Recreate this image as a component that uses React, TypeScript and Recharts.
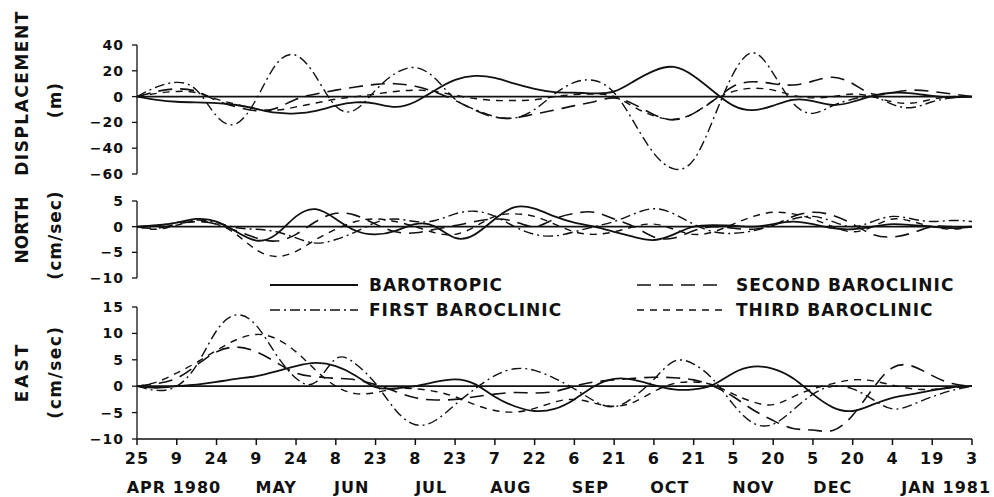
import React from 'react';
import { LineChart, Line, XAxis, YAxis, ReferenceLine } from 'recharts';

// x positions in tick units (one tick = half a month), sampled every half tick
const xs = [0, 0.5, 1, 1.5, 2, 2.5, 3, 3.5, 4, 4.5, 5, 5.5, 6, 6.5, 7, 7.5, 8, 8.5, 9, 9.5, 10, 10.5,
  11, 11.5, 12, 12.5, 13, 13.5, 14, 14.5, 15, 15.5, 16, 16.5, 17, 17.5, 18, 18.5, 19, 19.5, 20, 20.5, 21];

const dayTicks = [0, 1, 2, 3, 4, 5, 6, 7, 8, 9, 10, 11, 12, 13, 14, 15, 16, 17, 18, 19, 20, 21];
const dayLabels = ['25', '9', '24', '9', '24', '8', '23', '8', '23', '7', '22', '6', '21', '6', '21', '5', '20', '5', '20', '4', '19', '3'];
const monthTicks = [0.93, 3.5, 5.4, 7.4, 9.4, 11.4, 13.4, 15.5, 17.5, 20.35];
const monthLabels = ['APR 1980', 'MAY', 'JUN', 'JUL', 'AUG', 'SEP', 'OCT', 'NOV', 'DEC', 'JAN 1981'];

// DISPLACEMENT (m)
const dispBaro = [0, -2.5, -4, -4.5, -5, -6.5, -9.5, -12.5, -13, -11, -7, -4.5, -5.5, -8, -4, 5, 13, 16, 14.5, 10, 6, 3.5,
  3, 2.5, 4, 12, 20, 23, 16, 4, -7, -10.5, -7, -2.5, -3.5, -6.5, -4, 0.5, 3, 2.5, 0.5, -0.5, 0];
const dispFirst = [0, 7.5, 11, 5, -15, -21, -2, 25, 32, 15.5, -7.5, -10, 5, 18, 22.5, 14, -2, -10, -15.5, -16.5, -10, 2,
  11, 12.5, 3, -20, -44, -56, -49, -17, 18, 34, 18, -5, -13, -7, -2, 0, -6, -8.5, -4, -1, 0];
const dispSecond = [0, 4, 6, 4, -3, -8, -11, -9, -2, 2, 5, 7.5, 9.5, 10, 8, 3.5, -3, -10.5, -16, -16.5, -13.5, -10.5,
  -7, -4, -1, -6, -14, -18, -13, -3, 8, 11.5, 10, 9, 12, 15, 10, 2, 3, 5, 4, 2, 0];
const dispThird = [0, 2.5, 4, 3, -2, -6, -9.5, -10.5, -8, -5, -2, 0, 2, 4, 5, 4, 1, -1.5, -3, -3, -2.5, 0,
  1.5, 2, 0, -8, -15, -17.5, -13, -3, 4, 6.5, 5, 1, -1, 0, 2, 0, -4, -5, -2, 0, 0];

// NORTH (cm/sec)
const northBaro = [0, 0.3, 0.8, 1.5, 1, -1, -2.7, -1.5, 2, 3.4, 1.5, -0.8, -1.5, -0.8, 0.5, 0, -2.2, -1.5, 1.5, 3.8, 3.5, 2,
  0.8, 0, -1, -2, -2.6, -1.5, 0, 0.3, 0.2, 0, 0.5, 1, 0.5, -0.3, -0.5, 0, 0.5, 0.3, 0, -0.3, 0];
const northFirst = [0, 0.2, 0.8, 1.3, 0.8, -0.2, -0.5, -1, -2.2, -3.2, -2.5, -1, 0.8, 1.5, 1, 1.2, 2.5, 3, 2, 0, -1.5, -1.8,
  -1, 0, 1, 2.5, 3.5, 2.5, 0.5, -1, -1.3, -0.8, 0.3, 1.5, 2, 1, 0, 1, 2, 1.5, 1, 1.2, 1];
const northSecond = [0, -0.3, 0.5, 1, 0.5, -0.8, -2.2, -2.8, -1.5, 1, 2.6, 2.2, 0.5, -1, -1.2, -0.5, 0.2, 1, 1.5, 1, 0, 1.5,
  2.6, 2.8, 1.5, 0, -2, -2.2, -0.8, 0, -0.3, -0.5, 0.3, 2, 2.8, 2.2, 0.5, -1.5, -2, -1.2, 0, 0, 0];
const northThird = [0, -0.5, 0.3, 1, 0.5, -1.5, -4.5, -5.8, -4.8, -2.5, -0.5, 1, 1.5, 1, 0, -1.2, -1.5, 0, 2, 2.5, 2, 0.5,
  -1, -1.5, -1, 0, 0.5, -0.5, -1.5, -1, 0.5, 2, 2.8, 2.5, 1.5, 0, -1, 0, 1.5, 1, 0, -0.5, 0];

// EAST (cm/sec)
const eastBaro = [0, -0.3, 0, 0.3, 0.8, 1.4, 1.9, 2.8, 3.8, 4.4, 3.8, 2, -0.2, -0.4, 0, 0.8, 1.3, 0.4, -2, -3.8, -4.7, -4.3,
  -2.5, 0, 1.4, 1.2, 0.2, -0.6, -0.6, 0.3, 2.5, 3.7, 3.3, 1.5, -1.5, -4, -4.7, -3.5, -2.2, -1.5, -0.8, -0.2, 0];
const eastFirst = [0, -0.8, 0, 4, 10.5, 13.5, 11.5, 6, 1.5, 0.8, 5.2, 4.2, 0.5, -4.5, -7.3, -6.5, -3.5, -0.5, 2, 3.3, 3, 1.5,
  -0.5, -2.8, -3.9, -2, 1.3, 4.7, 4.2, 1.2, -3.5, -7, -7.2, -4.5, -1.5, 0, -0.5, -2.5, -4.3, -3.5, -2, -0.8, 0];
const eastSecond = [0, 0.5, 1.5, 4, 6.5, 7.4, 6.5, 4.5, 2.5, 1.8, 1.5, 1.2, 0.3, -1, -2.2, -2.6, -2.5, -2, -1.5, -1.2, -1.3, -1,
  0, 0.8, 1.2, 1.5, 1.7, 1.6, 1.2, 0, -2, -4.5, -6.5, -8, -8.3, -8.4, -5.5, -0.5, 3.5, 3.8, 2, 0.5, 0];
const eastThird = [0, 0.8, 2.5, 4.5, 6.8, 8.8, 9.8, 9, 6.5, 3, 0, -1.4, -1.2, -0.5, -0.5, -1, -2, -3.5, -4.6, -4.9, -4.2, -3,
  -2.5, -3.2, -3.8, -3, -1, 0.5, 0.8, 0.2, -1.5, -3, -3.5, -2, -0.5, 0.5, 1.2, 1, 0.2, -0.5, -0.6, -0.3, 0];

const INK = '#111';
const FONT = '"DejaVu Sans", sans-serif';

const seriesStyle = [
  { key: 'baro', label: 'BAROTROPIC', dash: undefined, width: 1.8 },
  { key: 'first', label: 'FIRST BAROCLINIC', dash: '10 4 2 4', width: 1.4 },
  { key: 'second', label: 'SECOND BAROCLINIC', dash: '14 8', width: 1.6 },
  { key: 'third', label: 'THIRD BAROCLINIC', dash: '7 6', width: 1.4 },
];

const buildRows = (baro: number[], first: number[], second: number[], third: number[]) =>
  xs.map((x, k) => ({ x, baro: baro[k], first: first[k], second: second[k], third: third[k] }));

const dispRows = buildRows(dispBaro, dispFirst, dispSecond, dispThird);
const northRows = buildRows(northBaro, northFirst, northSecond, northThird);
const eastRows = buildRows(eastBaro, eastFirst, eastSecond, eastThird);

const minus = (v: number) => String(v).replace('-', '\u2212');

const yTick = { fill: INK, fontSize: 14, fontWeight: 'bold', fontFamily: FONT };
const xTick = { fill: INK, fontSize: 16, fontWeight: 'bold', fontFamily: FONT };

interface PanelProps {
  rows: any[];
  top: number;
  height: number;
  marginTop: number;
  marginBottom: number;
  domain: [number, number];
  ticks: number[];
  bottomAxis?: boolean;
}

const Panel = ({ rows, top, height, marginTop, marginBottom, domain, ticks, bottomAxis }: PanelProps) => (
  <div style={{ position: 'absolute', left: 0, top, letterSpacing: 1 }}>
    <LineChart
      width={994}
      height={height}
      data={rows}
      margin={{ top: marginTop, right: 22, bottom: marginBottom, left: 77 }}
    >
      <XAxis
        dataKey="x"
        type="number"
        domain={[0, 21]}
        ticks={dayTicks}
        hide={!bottomAxis}
        height={30}
        interval={0}
        tickSize={6}
        tickMargin={8}
        stroke={INK}
        strokeWidth={1.5}
        tick={xTick}
        tickFormatter={(v: number) => dayLabels[dayTicks.indexOf(v)]}
      />
      {bottomAxis && (
        <XAxis
          xAxisId="month"
          dataKey="x"
          type="number"
          domain={[0, 21]}
          allowDataOverflow
          ticks={monthTicks}
          height={28}
          interval={0}
          axisLine={false}
          tickLine={false}
          tickSize={0}
          tickMargin={13}
          tick={xTick}
          tickFormatter={(v: number) => monthLabels[monthTicks.indexOf(v)]}
        />
      )}
      <YAxis
        type="number"
        domain={domain}
        ticks={ticks}
        interval={0}
        width={60}
        tickSize={5}
        tickMargin={8}
        stroke={INK}
        strokeWidth={1.3}
        tick={yTick}
        tickFormatter={minus}
        allowDataOverflow
      />
      <ReferenceLine y={0} stroke={INK} strokeWidth={1.7} />
      {seriesStyle.map((s) => (
        <Line
          key={s.key}
          type="natural"
          dataKey={s.key}
          stroke={INK}
          strokeWidth={s.width}
          strokeDasharray={s.dash}
          dot={false}
          activeDot={false}
          isAnimationActive={false}
        />
      ))}
    </LineChart>
  </div>
);

const AxisTitle = ({ x, y, text, spacing }: { x: number; y: number; text: string; spacing: number }) => (
  <text
    x={x}
    y={y}
    transform={`rotate(-90 ${x} ${y})`}
    textAnchor="middle"
    dy="0.35em"
    fontSize={17}
    fontWeight="bold"
    fontFamily={FONT}
    letterSpacing={spacing}
    fill={INK}
  >
    {text}
  </text>
);

const legendSpots = [
  { x: 270, y: 285 },
  { x: 270, y: 310 },
  { x: 637, y: 285 },
  { x: 637, y: 310 },
];

export default function App() {
  return (
    <div style={{ position: 'absolute', left: 0, top: 0, width: 994, height: 497, background: '#fff', overflow: 'hidden' }}>
      <Panel rows={dispRows} top={0} height={190} marginTop={45} marginBottom={16}
        domain={[-60, 40]} ticks={[40, 20, 0, -20, -40, -60]} />
      <Panel rows={northRows} top={190} height={100} marginTop={11} marginBottom={12}
        domain={[-10, 5]} ticks={[5, 0, -5, -10]} />
      <Panel rows={eastRows} top={290} height={207} marginTop={17} marginBottom={0}
        domain={[-10, 15]} ticks={[15, 10, 5, 0, -5, -10]} bottomAxis />
      <svg width={994} height={497} style={{ position: 'absolute', left: 0, top: 0, pointerEvents: 'none' }}>
        <AxisTitle x={22} y={93} text="DISPLACEMENT" spacing={1.5} />
        <AxisTitle x={55} y={100} text="(m)" spacing={1} />
        <AxisTitle x={22} y={230} text="NORTH" spacing={0} />
        <AxisTitle x={55} y={235} text="(cm/sec)" spacing={1} />
        <AxisTitle x={22} y={372} text="EAST" spacing={3} />
        <AxisTitle x={55} y={372} text="(cm/sec)" spacing={1.5} />
        {seriesStyle.map((s, k) => (
          <g key={s.key}>
            <line
              x1={legendSpots[k].x}
              x2={legendSpots[k].x + 88}
              y1={legendSpots[k].y}
              y2={legendSpots[k].y}
              stroke={INK}
              strokeWidth={s.width}
              strokeDasharray={s.dash}
            />
            <text
              x={legendSpots[k].x + 99}
              y={legendSpots[k].y}
              dy="0.35em"
              fontSize={17}
              fontWeight="bold"
              fontFamily={FONT}
              letterSpacing={1}
              fill={INK}
            >
              {s.label}
            </text>
          </g>
        ))}
      </svg>
    </div>
  );
}
